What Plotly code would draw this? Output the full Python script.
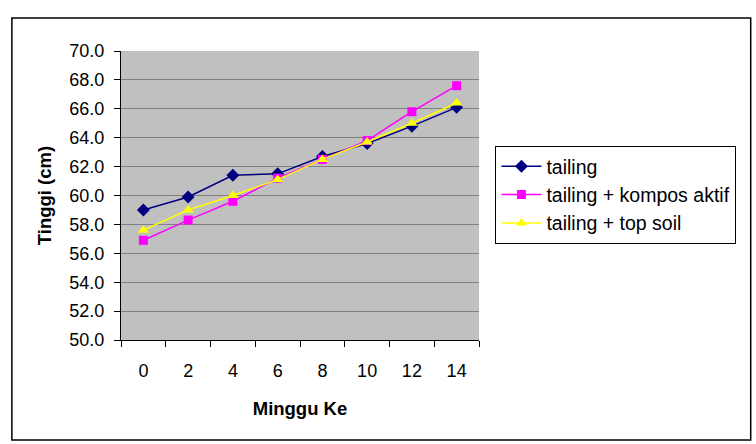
import plotly.graph_objects as go

minggu = [0, 2, 4, 6, 8, 10, 12, 14]
tailing = [59.0, 59.9, 61.4, 61.5, 62.7, 63.6, 64.8, 66.1]
kompos = [56.9, 58.3, 59.6, 61.2, 62.5, 63.8, 65.8, 67.6]
topsoil = [57.6, 59.0, 60.0, 61.1, 62.5, 63.7, 65.0, 66.4]
y_ticks = [50 + 2 * i for i in range(11)]

L, R, T, B = 121, 478.6, 51, 340
W, H = R - L, B - T

fig = go.Figure()
fig.add_trace(go.Scatter(x=minggu, y=tailing, name="tailing", mode="lines+markers",
                         line=dict(color="#000080", width=1.5),
                         marker=dict(symbol="diamond", size=10, color="#000080")))
fig.add_trace(go.Scatter(x=minggu, y=kompos, name="tailing + kompos aktif", mode="lines+markers",
                         line=dict(color="#FF00FF", width=1.5),
                         marker=dict(symbol="square", size=9, color="#FF00FF")))
fig.add_trace(go.Scatter(x=minggu, y=topsoil, name="tailing + top soil", mode="lines+markers",
                         line=dict(color="#FFFF00", width=1.5),
                         marker=dict(symbol="triangle-up", size=10, color="#FFFF00")))

fig.update_layout(
    width=756, height=444,
    margin=dict(l=L, r=756 - R, t=T, b=444 - B),
    paper_bgcolor="white", plot_bgcolor="#C0C0C0",
    font=dict(family="Liberation Sans, Arial, sans-serif", size=18, color="black"),
    legend=dict(x=(495 - L) / W, y=(B - 146) / H, xanchor="left", yanchor="top",
                bordercolor="black", borderwidth=1, bgcolor="white",
                font=dict(size=19.5), itemwidth=40),
    showlegend=True,
)
fig.update_xaxes(range=[-1, 15], tickvals=minggu, ticktext=[str(v) for v in minggu],
                 ticks="", showgrid=False, zeroline=False,
                 showline=True, linecolor="black", linewidth=1,
                 ticklabelstandoff=14,
                 minor=dict(tickvals=[-1, 1, 3, 5, 7, 9, 11, 13, 15], ticks="outside",
                            ticklen=6, tickcolor="black", showgrid=False),
                 title=dict(text="<b>Minggu Ke</b>", font=dict(size=18.5), standoff=22),
                 tickfont=dict(size=18))
fig.update_yaxes(range=[50, 70], tickvals=y_ticks, ticktext=[f"{v:.1f}" for v in y_ticks],
                 ticks="outside", ticklen=6, tickcolor="black",
                 showgrid=True, gridcolor="#808080", gridwidth=1, zeroline=False,
                 showline=True, linecolor="black", linewidth=1,
                 ticklabelstandoff=6,
                 title=dict(text="<b>Tinggi (cm)</b>", font=dict(size=18.5), standoff=12),
                 tickfont=dict(size=18))

fig.add_shape(type="rect", xref="paper", yref="paper",
              x0=(12 - L) / W, x1=(750 - L) / W,
              y0=(B - 440) / H, y1=(B - 18) / H,
              line=dict(color="black", width=1.5), fillcolor="rgba(0,0,0,0)", layer="below")

fig.write_html("out.html")
